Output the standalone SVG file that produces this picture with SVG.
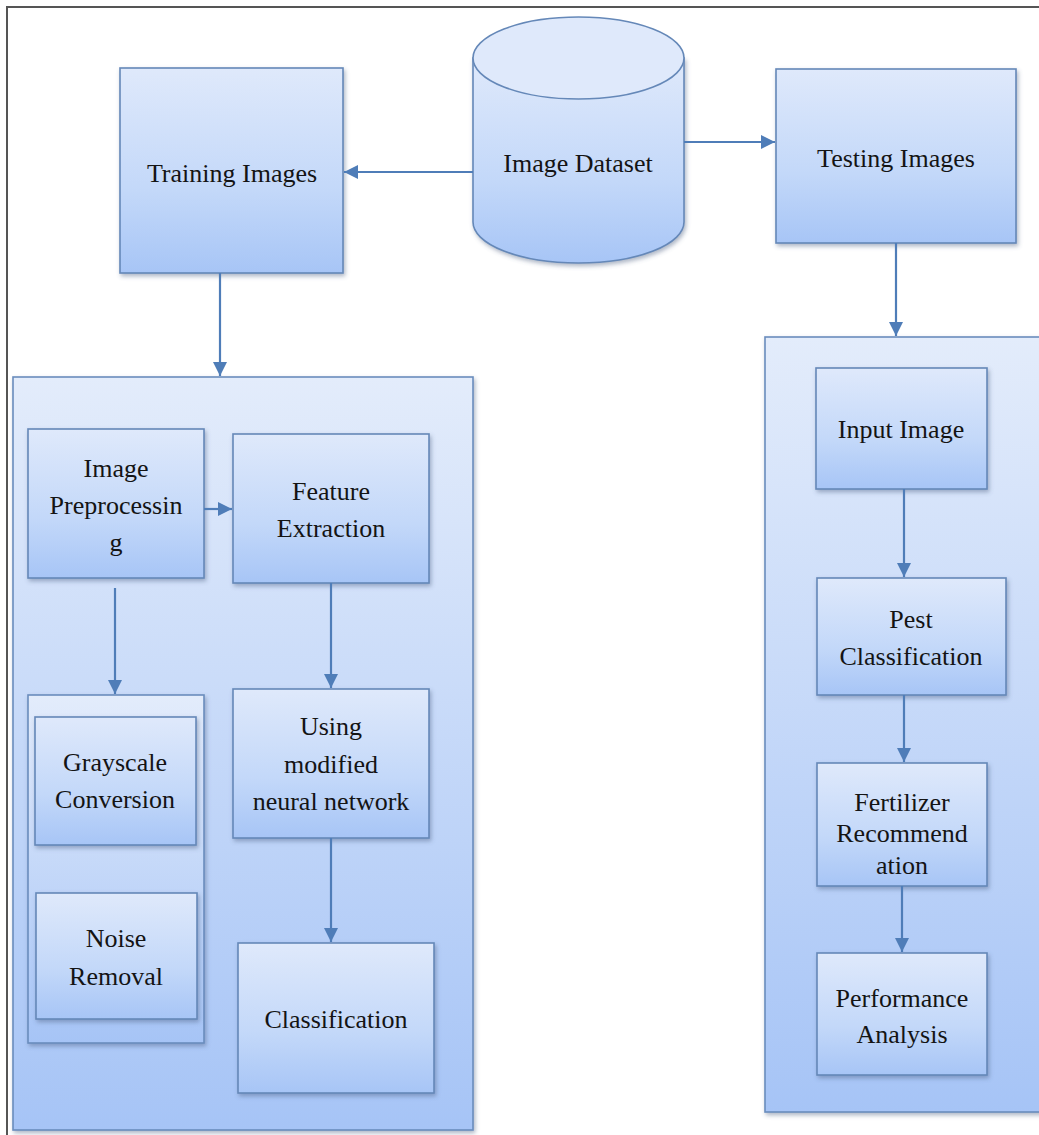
<svg xmlns="http://www.w3.org/2000/svg" width="1039" height="1135" viewBox="0 0 1039 1135">
  <defs>
    <linearGradient id="boxGrad" x1="0" y1="0" x2="0" y2="1">
      <stop offset="0" stop-color="#dfe9fb"/>
      <stop offset="0.6" stop-color="#c3d8f9"/>
      <stop offset="1" stop-color="#a7c5f6"/>
    </linearGradient>
    <linearGradient id="contGrad" x1="0" y1="0" x2="0" y2="1">
      <stop offset="0" stop-color="#e3ecfb"/>
      <stop offset="1" stop-color="#a6c4f6"/>
    </linearGradient>
    <filter id="shadow" x="-10%" y="-10%" width="125%" height="125%">
      <feDropShadow dx="1.5" dy="2.5" stdDeviation="2" flood-color="#4a5e80" flood-opacity="0.45"/>
    </filter>
    <marker id="arrow" markerUnits="userSpaceOnUse" markerWidth="16" markerHeight="14" refX="14" refY="7" orient="auto">
      <path d="M0,0 L14,7 L0,14 Z" fill="#4f7db8"/>
    </marker>
    <style>
      .box { fill: url(#boxGrad); stroke: #6588b8; stroke-width: 1.6; filter: url(#shadow); }
      .cont { fill: url(#contGrad); stroke: #6a8dbd; stroke-width: 1.6; filter: url(#shadow); }
      .lbl { font-family: "Liberation Serif", "Times New Roman", serif; font-size: 26px; fill: #141414; text-anchor: middle; }
      .conn line { stroke: #4f7db8; stroke-width: 2.2; marker-end: url(#arrow); }
      .frame { stroke: #555; stroke-width: 2; fill: none; }
    </style>
  </defs>

  <rect x="0" y="0" width="1039" height="1135" fill="#ffffff"/>
  <path class="frame" d="M1039,7 L7,7 L7,1135"/>

  <g id="left-container">
    <rect class="cont" x="13" y="377" width="460" height="753"/>
  </g>
  <g id="right-container">
    <rect class="cont" x="765" y="337" width="290" height="775"/>
  </g>

  <g id="image-dataset">
    <path d="M473,58 L473,222 A105.5,41 0 0 0 684,222 L684,58 Z" fill="url(#boxGrad)" stroke="#6588b8" stroke-width="1.6" filter="url(#shadow)"/>
    <ellipse cx="578.5" cy="58" rx="105.5" ry="41" fill="#dfe9fb" stroke="#6588b8" stroke-width="1.6"/>
    <text class="lbl" x="578" y="172">Image Dataset</text>
  </g>

  <g id="training-images">
    <rect class="box" x="120" y="68" width="223" height="205"/>
    <text class="lbl" x="232" y="182">Training Images</text>
  </g>

  <g id="testing-images">
    <rect class="box" x="776" y="69" width="240" height="174"/>
    <text class="lbl" x="896" y="167">Testing Images</text>
  </g>

  <g id="image-preprocessing">
    <rect class="box" x="28" y="429" width="176" height="149"/>
    <text class="lbl" x="116" y="477">Image</text>
    <text class="lbl" x="116" y="514">Preprocessin</text>
    <text class="lbl" x="116" y="551">g</text>
  </g>

  <g id="feature-extraction">
    <rect class="box" x="233" y="434" width="196" height="149"/>
    <text class="lbl" x="331" y="500">Feature</text>
    <text class="lbl" x="331" y="537">Extraction</text>
  </g>

  <g id="preprocessing-group">
    <rect class="cont" x="28" y="695" width="176" height="348"/>
  </g>

  <g id="grayscale-conversion">
    <rect class="box" x="35" y="717" width="161" height="128"/>
    <text class="lbl" x="115" y="771">Grayscale</text>
    <text class="lbl" x="115" y="808">Conversion</text>
  </g>

  <g id="noise-removal">
    <rect class="box" x="36" y="893" width="161" height="126"/>
    <text class="lbl" x="116" y="947">Noise</text>
    <text class="lbl" x="116" y="985">Removal</text>
  </g>

  <g id="modified-neural-network">
    <rect class="box" x="233" y="689" width="196" height="149"/>
    <text class="lbl" x="331" y="735">Using</text>
    <text class="lbl" x="331" y="773">modified</text>
    <text class="lbl" x="331" y="810">neural network</text>
  </g>

  <g id="classification">
    <rect class="box" x="238" y="943" width="196" height="150"/>
    <text class="lbl" x="336" y="1028">Classification</text>
  </g>

  <g id="input-image">
    <rect class="box" x="816" y="368" width="171" height="121"/>
    <text class="lbl" x="901" y="438">Input Image</text>
  </g>

  <g id="pest-classification">
    <rect class="box" x="817" y="578" width="189" height="117"/>
    <text class="lbl" x="911" y="628">Pest</text>
    <text class="lbl" x="911" y="665">Classification</text>
  </g>

  <g id="fertilizer-recommendation">
    <rect class="box" x="817" y="763" width="170" height="123"/>
    <text class="lbl" x="902" y="811">Fertilizer</text>
    <text class="lbl" x="902" y="842">Recommend</text>
    <text class="lbl" x="902" y="874">ation</text>
  </g>

  <g id="performance-analysis">
    <rect class="box" x="817" y="953" width="170" height="122"/>
    <text class="lbl" x="902" y="1007">Performance</text>
    <text class="lbl" x="902" y="1043">Analysis</text>
  </g>

  <g id="connectors" class="conn">
    <line x1="473" y1="172" x2="344" y2="172"/>
    <line x1="684" y1="142" x2="775" y2="142"/>
    <line x1="220" y1="273" x2="220" y2="376"/>
    <line x1="896" y1="243" x2="896" y2="336"/>
    <line x1="204" y1="509" x2="232" y2="509"/>
    <line x1="115" y1="588" x2="115" y2="694"/>
    <line x1="331" y1="583" x2="331" y2="688"/>
    <line x1="331" y1="838" x2="331" y2="942"/>
    <line x1="904" y1="489" x2="904" y2="577"/>
    <line x1="904" y1="695" x2="904" y2="762"/>
    <line x1="902" y1="886" x2="902" y2="952"/>
  </g>
</svg>
